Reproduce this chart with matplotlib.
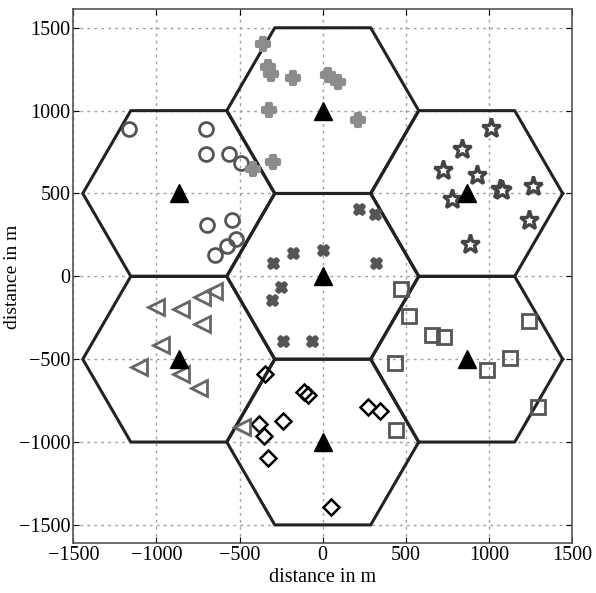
import numpy as np
import matplotlib
matplotlib.use("Agg")
import matplotlib.pyplot as plt
from matplotlib.markers import MarkerStyle

plt.rcParams['font.family'] = ['Liberation Serif', 'DejaVu Serif']

# base stations (cell centres)
bs_x = [0, 0, 0, 866, 866, -866, -866]
bs_y = [0, 1000, -1000, 500, -500, 500, -500]
cell_radius = 577

# users per cell
circ_x = [-1167, -704, -704, -563, -492, -694, -547, -523, -573, -648]
circ_y = [887, 887, 736, 736, 684, 308, 338, 223, 181, 127]

blob_x = [-362, -332, -311, -177, 30, 91, -326, 211, -298, -422]
blob_y = [1400, 1260, 1223, 1197, 1213, 1173, 1002, 941, 690, 650]

cross_x = [221, 312, -181, 0, -298, 322, -251, -305, -241, -64]
cross_y = [409, 378, 141, 157, 80, 80, -65, -141, -390, -390]

star_x = [1010, 835, 724, 926, 775, 1066, 1267, 1243, 886, 1080]
star_y = [897, 771, 640, 610, 469, 529, 543, 342, 197, 522]

sq_x = [469, 517, 660, 730, 437, 990, 1127, 1240, 1294, 439]
sq_y = [-78, -240, -356, -366, -521, -563, -493, -270, -789, -925]

dia_x = [-346, -115, -90, -237, -386, -352, -332, 272, 342, 51]
dia_y = [-591, -695, -715, -875, -889, -964, -1094, -789, -813, -1392]

tri_x = [-1000, -855, -724, -654, -724, -975, -1106, -855, -744, -486]
tri_y = [-185, -196, -125, -89, -285, -416, -547, -587, -672, -909]

fig = plt.figure(figsize=(5.96, 5.93), dpi=100)
ax = fig.add_axes([0.123, 0.084, 0.837, 0.9])

# hexagonal cells
ang = np.radians(np.arange(0, 361, 60))
for cx, cy in zip(bs_x, bs_y):
    ax.plot(cx + cell_radius * np.cos(ang), cy + cell_radius * np.sin(ang),
            color='#222222', lw=2.2, zorder=2)

ax.plot(circ_x, circ_y, 'o', ms=10, mfc='none', mec='#555555', mew=2, zorder=3)
ax.plot(blob_x, blob_y, ls='none', marker=MarkerStyle('P', joinstyle='round'),
        ms=8, mfc='#8c8c8c', mec='#8c8c8c', mew=3, zorder=3)
ax.plot(cross_x, cross_y, ls='none', marker=MarkerStyle('X', joinstyle='round'),
        ms=7.5, mfc='#555555', mec='#555555', mew=2, zorder=3)
ax.plot(star_x, star_y, '*', ms=14, mfc='white', mec='#444444', mew=2.4, zorder=3)
ax.plot(sq_x, sq_y, 's', ms=10, mfc='none', mec='#555555', mew=2, zorder=3)
ax.plot(dia_x, dia_y, 'D', ms=8, mfc='none', mec='black', mew=1.8, zorder=3)
ax.plot(tri_x, tri_y, '<', ms=11, mfc='none', mec='#666666', mew=2, zorder=3)

ax.plot(bs_x, bs_y, '^', ms=13, color='black', zorder=4)

ax.set_xlim(-1500, 1500)
ax.set_ylim(-1610, 1610)
ticks = [-1500, -1000, -500, 0, 500, 1000, 1500]
ax.set_xticks(ticks)
ax.set_yticks(ticks)
ax.set_xticklabels([str(t).replace('-', '\u2212') for t in ticks])
ax.set_yticklabels([str(t).replace('-', '\u2212') for t in ticks])
ax.grid(True, linestyle=(0, (2, 3)), color='#a0a0a0', lw=1)
ax.tick_params(direction='in', top=True, right=True, labelsize=14.5, length=4, pad=2)
for s in ax.spines.values():
    s.set_color('#555555')
    s.set_linewidth(1.2)
ax.set_xlabel('distance in m', fontsize=14.5, labelpad=2)
ax.set_ylabel('distance in m', fontsize=14)
ax.yaxis.set_label_coords(-0.104, 0.5)

fig.savefig('out.png', dpi=100)
